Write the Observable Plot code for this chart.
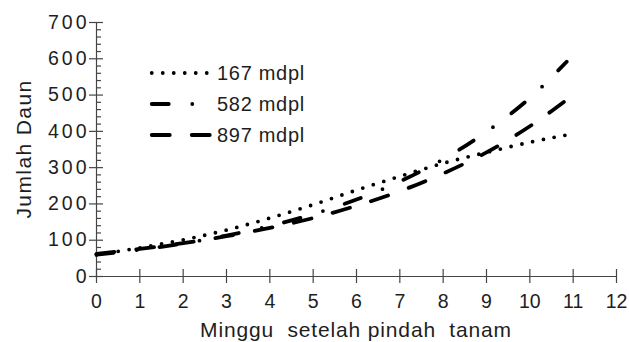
<!DOCTYPE html>
<html>
<head>
<meta charset="utf-8">
<script src="https://cdn.jsdelivr.net/npm/d3@7"></script>
<script src="https://cdn.jsdelivr.net/npm/@observablehq/plot@0.6"></script>
<style>
  html, body { margin: 0; padding: 0; background: #fff; }
  #chart { width: 629px; height: 342px; }
  #chart svg { font-family: "Liberation Sans", Arial, sans-serif; }
  #chart svg text { white-space: pre; }
  #chart g[aria-label="y-axis tick label"] text { letter-spacing: 3px; }
</style>
</head>
<body>
<div id="chart"></div>
<script>
// Weeks after transplanting
const weeks = [0, 1, 2, 3, 4, 5, 6, 7, 8, 9, 10, 10.85];
// Leaf counts per elevation
const leaves167 = [60, 79, 101, 128, 161, 198, 238, 276, 312, 342, 370, 390];
const leaves582 = [60, 74, 91, 113, 139, 172, 212, 262, 323, 399, 492, 592];
const leaves897 = [62, 76, 92, 111, 134, 161, 195, 235, 284, 342, 414, 487];
const seriesNames = ["167 mdpl", "582 mdpl", "897 mdpl"];
const xTicks = [0, 1, 2, 3, 4, 5, 6, 7, 8, 9, 10, 11, 12];
const yTicks = [0, 100, 200, 300, 400, 500, 600, 700];
const yMinorTicks = d3.range(0, 701, 20).filter((v) => v % 100 !== 0);
const xTitle = "Minggu  setelah pindah  tanam";
const yTitle = "Jumlah Daun";

const seriesValues = [leaves167, leaves582, leaves897];
const rows = seriesNames.flatMap((name, s) =>
  weeks.map((w, i) => ({series: name, week: w, leaves: seriesValues[s][i]}))
);

// Line pattern for each series: dotted, dash-dot, dashed
const dashFor = {
  "167 mdpl": "0 11",
  "582 mdpl": "17 23.5 0 23",
  "897 mdpl": "18 22"
};

const axisColor = "#454545";
const textColor = "#1e1e1e";
const lineWidth = 3.8;

// In-plot legend, placed relative to the frame
function legend(index, scales, values, dims) {
  const g = d3.create("svg:g");
  seriesNames.forEach((name, i) => {
    const y = dims.marginTop + 51 + i * 31;
    g.append("line")
      .attr("x1", dims.marginLeft + 55.75)
      .attr("x2", dims.marginLeft + 114)
      .attr("y1", y).attr("y2", y)
      .attr("stroke", "black")
      .attr("stroke-width", lineWidth)
      .attr("stroke-linecap", "round")
      .attr("stroke-dasharray", dashFor[name]);
    g.append("text")
      .attr("x", dims.marginLeft + 121)
      .attr("y", y)
      .attr("dy", "0.36em")
      .attr("text-anchor", "start")
      .attr("fill", textColor)
      .attr("font-size", 20)
      .attr("letter-spacing", 0.7)
      .text(name);
  });
  return g.node();
}

// Axis titles: centred under and beside the frame
function axisTitles(index, scales, values, dims) {
  const g = d3.create("svg:g")
    .attr("fill", textColor)
    .attr("font-size", 21)
    .attr("text-anchor", "middle");
  const cx = (dims.marginLeft + dims.width - dims.marginRight) / 2;
  const cy = (dims.marginTop + dims.height - dims.marginBottom) / 2;
  g.append("text")
    .attr("x", cx)
    .attr("y", dims.height - 5.5)
    .attr("letter-spacing", 0.85)
    .text(xTitle);
  g.append("text")
    .attr("transform", `translate(31,${cy}) rotate(-90)`)
    .attr("letter-spacing", 1.4)
    .text(yTitle);
  return g.node();
}

const chart = Plot.plot({
  width: 629,
  height: 342,
  marginLeft: 96,
  marginRight: 13,
  marginTop: 22,
  marginBottom: 66,
  style: {fontFamily: "'Liberation Sans', Arial, sans-serif", background: "#fff"},
  x: {domain: [0, 12]},
  y: {domain: [0, 700]},
  marks: [
    // axis lines
    Plot.ruleY([0], {stroke: axisColor, strokeWidth: 1.2}),
    Plot.ruleX([0], {stroke: axisColor, strokeWidth: 1.2}),
    // x ticks crossing the axis
    Plot.axisX({ticks: xTicks, tickSize: 14, dy: -7, fill: "none", stroke: axisColor, strokeWidth: 1.2, label: null}),
    Plot.axisX({ticks: xTicks, tickSize: 0, tickPadding: 18, stroke: "none", fill: textColor, fontSize: 19.5, label: null}),
    // y ticks: major crossing, minor inside
    Plot.axisY({ticks: yTicks, tickSize: 14, dx: 7, fill: "none", stroke: axisColor, strokeWidth: 1.2, label: null}),
    Plot.axisY({ticks: yMinorTicks, tickSize: 5, dx: 5, fill: "none", stroke: axisColor, strokeWidth: 1.2, label: null}),
    Plot.axisY({ticks: yTicks, tickSize: 0, tickPadding: 7, stroke: "none", fill: textColor, fontSize: 19.5, label: null}),
    axisTitles,
    // series
    ...seriesNames.map((name) =>
      Plot.line(rows.filter((d) => d.series === name), {
        x: "week",
        y: "leaves",
        stroke: "black",
        strokeWidth: lineWidth,
        strokeLinecap: "round",
        strokeDasharray: dashFor[name],
        curve: "natural"
      })
    ),
    legend
  ]
});

document.getElementById("chart").append(chart);
</script>
</body>
</html>
